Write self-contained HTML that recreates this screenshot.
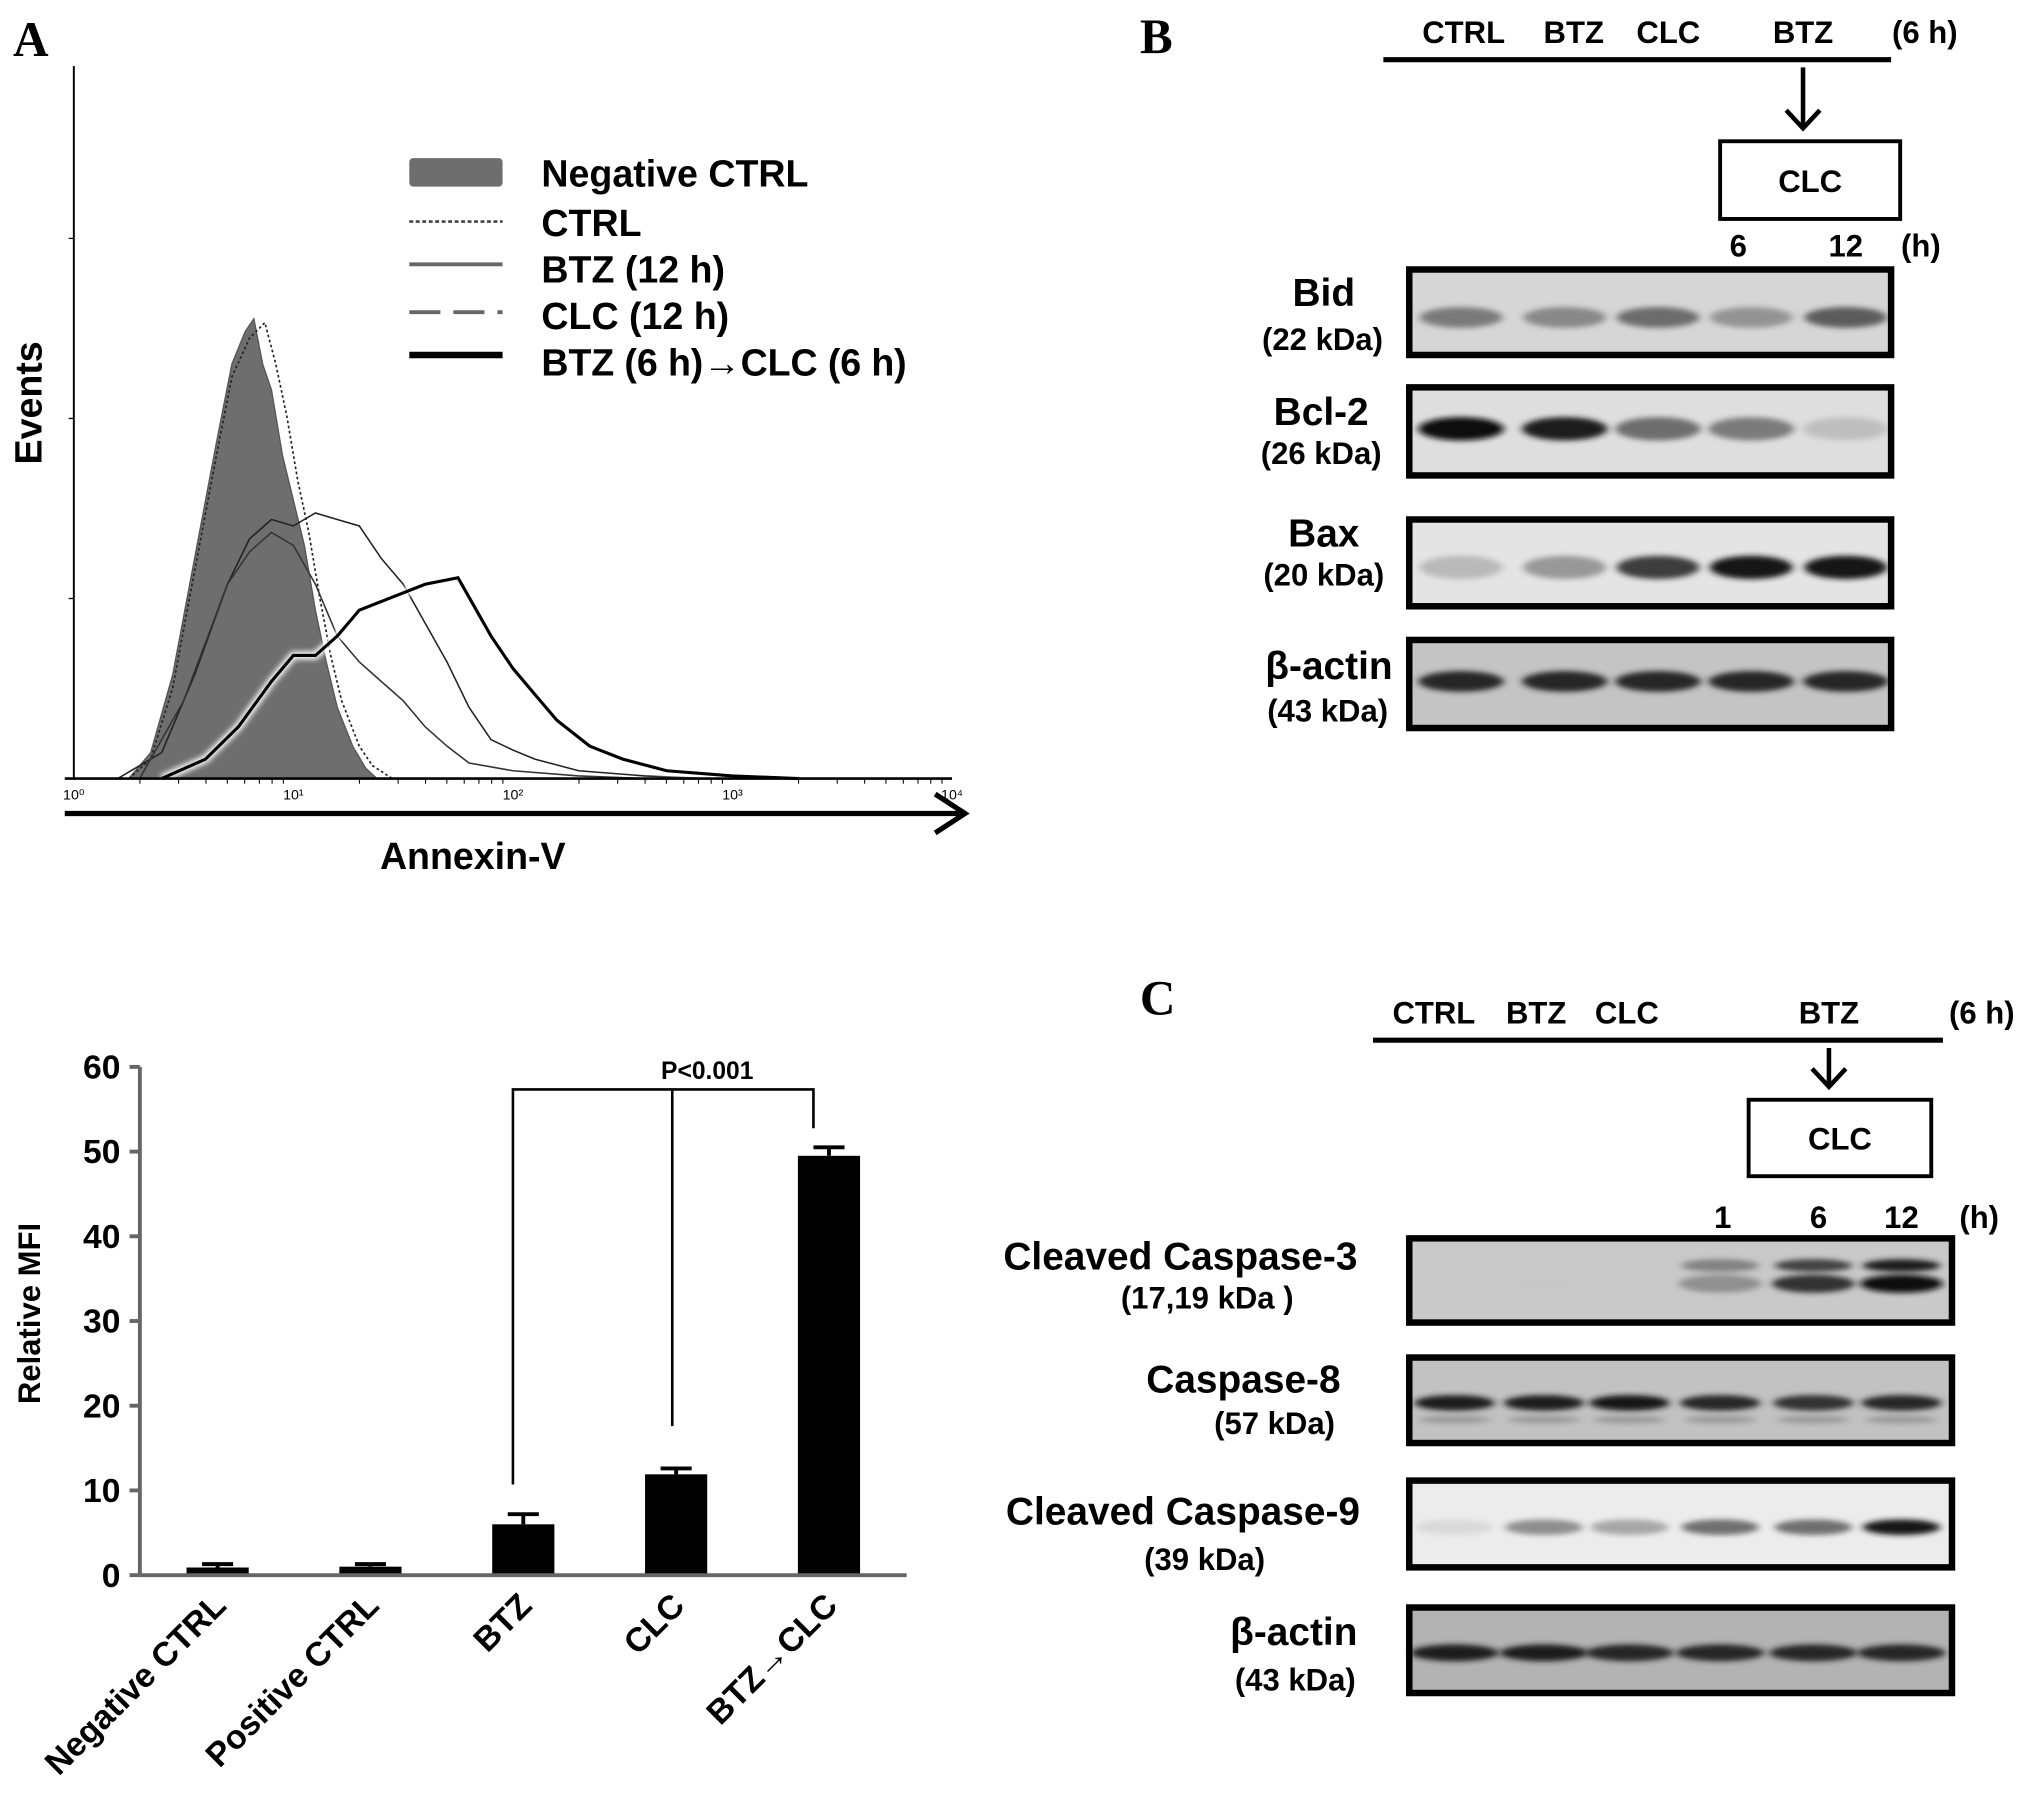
<!DOCTYPE html>
<html><head><meta charset="utf-8"><style>
html,body{margin:0;padding:0;background:#fff;}
svg{display:block;font-family:"Liberation Sans",Arial,sans-serif;}
</style></head><body>
<svg id="fig" width="2031" height="1798" viewBox="0 0 1568 1386" xmlns="http://www.w3.org/2000/svg">
<defs>
<filter id="blur" x="-20%" y="-100%" width="140%" height="300%"><feGaussianBlur stdDeviation="3 2"/></filter>
<filter id="glow"><feGaussianBlur stdDeviation="2"/></filter>
</defs>
<g id="panelA"></g>
<g id="panelBar"></g>
<g id="panelB"></g>
<g id="panelC"></g>
</svg>
<script>
// ---------- Histogram data (log10 Annexin-V, events) ----------
const negLog=[0.25,0.35,0.45,0.55,0.65,0.72,0.78,0.82,0.86,0.9,0.95,1.0,1.05,1.1,1.15,1.2,1.27,1.33,1.38];
const negVal=[0,20,80,170,260,320,345,355,320,300,250,215,180,130,90,55,25,8,0];
const ctrlLog=[0.25,0.35,0.45,0.55,0.65,0.72,0.8,0.87,0.92,0.97,1.02,1.07,1.12,1.17,1.22,1.3,1.36,1.45];
const ctrlVal=[0,15,70,160,250,310,340,352,320,280,230,190,140,95,60,25,10,0];
const btzLog=[0.2,0.4,0.55,0.7,0.8,0.9,1.0,1.1,1.2,1.3,1.4,1.5,1.6,1.7,1.8,1.9,2.0,2.1,2.3,2.6,2.9];
const btzVal=[0,20,80,150,185,200,195,205,200,195,170,150,120,90,55,30,22,15,6,2,0];
const clcLog=[0.3,0.5,0.7,0.8,0.9,1.0,1.1,1.2,1.3,1.4,1.5,1.6,1.7,1.8,2.0,2.3,2.6];
const clcVal=[0,60,150,175,190,180,150,110,90,75,60,40,25,12,6,2,0];
const seqLog=[0.4,0.6,0.75,0.9,1.0,1.1,1.2,1.3,1.45,1.6,1.75,1.8,1.9,2.0,2.1,2.2,2.35,2.5,2.7,3.0,3.3];
const seqVal=[0,15,40,75,95,95,110,130,140,150,155,140,110,85,65,45,25,15,6,2,0];
const xTickLabels=["10⁰","10¹","10²","10³","10⁴"];
// ---------- Bar chart data ----------
const barCats=["Negative CTRL","Positive CTRL","BTZ","CLC","BTZ→CLC"];
const barVals=[0.9,1.0,6.0,11.9,49.5];
const barErr=[0.4,0.3,1.2,0.7,1.0];
const barTicks=[0,10,20,30,40,50,60];
// ---------- Blot data (band intensity 0..1) ----------
const bLanes=["CTRL","BTZ","CLC","BTZ→CLC 6h","BTZ→CLC 12h"];
const bidInt=[0.55,0.5,0.6,0.45,0.65];
const bcl2Int=[1.0,0.9,0.6,0.55,0.25];
const baxInt=[0.3,0.45,0.75,0.95,0.95];
const bActinInt=[0.85,0.85,0.85,0.85,0.85];
const cLanes=["CTRL","BTZ","CLC","BTZ→CLC 1h","BTZ→CLC 6h","BTZ→CLC 12h"];
const cc3Int=[0.03,0.05,0.04,0.45,0.8,1.0];
const casp8Int=[0.9,0.9,0.95,0.85,0.8,0.85];
const cc9Int=[0.12,0.5,0.4,0.6,0.6,0.95];
const cActinInt=[0.9,0.9,0.85,0.85,0.85,0.85];

const NS="http://www.w3.org/2000/svg";
function mk(parent,tag,attrs,text){const e=document.createElementNS(NS,tag);for(const k in attrs)e.setAttribute(k,attrs[k]);if(text!==undefined)e.textContent=text;parent.appendChild(e);return e;}

// ===== Panel A histogram =====
const A=document.getElementById('panelA');
const hx0=57,hdec=169.5,hy0=600;
const hx=l=>hx0+l*hdec, hy=v=>hy0-v;
let t=mk(A,'text',{x:10,y:42,'font-family':'Liberation Serif,serif','font-size':38,'font-weight':'bold'},'A');

function pathFrom(L,V,close){let d='';L.forEach((l,i)=>{d+=(i?'L':'M')+hx(l).toFixed(1)+' '+hy(V[i]).toFixed(1)});if(close)d+='Z';return d;}
let p=mk(A,'path',{d:pathFrom(negLog,negVal,true),fill:'#fff',stroke:'#fff','stroke-width':8,filter:'url(#glow)'});
p=mk(A,'path',{d:pathFrom(negLog,negVal,true),fill:'#6e6e6e',stroke:'#555','stroke-width':1});

p=mk(A,'path',{d:pathFrom(ctrlLog,ctrlVal),fill:'none',stroke:'#222','stroke-width':1.3,'stroke-dasharray':'2 2'});

p=mk(A,'path',{d:pathFrom(btzLog,btzVal),fill:'none',stroke:'#222','stroke-width':1.2});

p=mk(A,'path',{d:pathFrom(clcLog,clcVal),fill:'none',stroke:'#333','stroke-width':1.2});

p=mk(A,'path',{d:pathFrom(seqLog,seqVal),fill:'none',stroke:'#fff','stroke-width':6,filter:'url(#glow)'});
p=mk(A,'path',{d:pathFrom(seqLog,seqVal),fill:'none',stroke:'#000','stroke-width':2.4});

// axes
p=mk(A,'line',{x1:hx0,y1:50,x2:hx0,y2:hy0,stroke:'#000','stroke-width':1.5});

[139,278,417].forEach(v=>mk(A,'line',{x1:hx0-4,y1:hy(v),x2:hx0,y2:hy(v),stroke:'#000','stroke-width':1}));
p=mk(A,'line',{x1:50,y1:hy0,x2:hx(4),y2:hy0,stroke:'#000','stroke-width':2});

for(let d=0;d<4;d++)for(let k=2;k<10;k++){const x=hx(d+Math.log10(k));mk(A,'line',{x1:x,y1:hy0,x2:x,y2:hy0+4,stroke:'#000','stroke-width':0.8});}
xTickLabels.forEach((s,i)=>{const e=mk(A,'text',{x:hx(i),y:hy0+16,'font-size':11,'text-anchor':'middle'},s);
});
p=mk(A,'path',{d:'M50 627 L742 627 M722 612 L745 627 L722 642',stroke:'#000','stroke-width':4,fill:'none'});

t=mk(A,'text',{x:365,y:670,'font-size':29,'font-weight':'bold','text-anchor':'middle'},'Annexin-V');

t=mk(A,'text',{x:0,y:0,'font-size':29,'font-weight':'bold','text-anchor':'middle',transform:'translate(32,310) rotate(-90)'},'Events');

// legend
const lg=mk(A,'g',{});
const legTxt=["Negative CTRL","CTRL","BTZ (12 h)","CLC (12 h)","BTZ (6 h)→CLC (6 h)"];
const legY=[132,170,206,242,278];
mk(lg,'rect',{x:316,y:121,width:72,height:22,rx:3,fill:'#6e6e6e'});
mk(lg,'line',{x1:316,y1:170,x2:388,y2:170,stroke:'#444','stroke-width':2,'stroke-dasharray':'3 2'});
mk(lg,'line',{x1:316,y1:203,x2:388,y2:203,stroke:'#666','stroke-width':3});
mk(lg,'line',{x1:316,y1:240,x2:388,y2:240,stroke:'#666','stroke-width':3,'stroke-dasharray':'24 10'});
mk(lg,'line',{x1:316,y1:273,x2:388,y2:273,stroke:'#000','stroke-width':5});
legTxt.forEach((s,i)=>{const e=mk(lg,'text',{x:418,y:legY[i]+11,'font-size':29,'font-weight':'bold',textLength:(i==4?282:null)},s);
if(i!=4)e.removeAttribute('textLength');
});

// ===== Bar chart =====
const Bc=document.getElementById('panelBar');
const bx0=108,by0=1215,bpx=6.54;
const by=v=>by0-v*bpx;
const bcx=i=>168+i*118;
barVals.forEach((v,i)=>{
 const x=bcx(i);
 const e=mk(Bc,'line',{x1:x,y1:by(v),x2:x,y2:by(v+barErr[i]),stroke:'#000','stroke-width':3});
 
 mk(Bc,'line',{x1:x-12,y1:by(v+barErr[i]),x2:x+12,y2:by(v+barErr[i]),stroke:'#000','stroke-width':3});
 const r=mk(Bc,'rect',{x:x-24,y:by(v),width:48,height:by0-by(v),fill:'#000'});
 
 const lb=mk(Bc,'text',{x:0,y:0,'font-size':26,'font-weight':'bold','text-anchor':'end',transform:'translate('+(x+8)+',1240) rotate(-45)'},barCats[i]);
 
});
p=mk(Bc,'line',{x1:bx0,y1:by(60),x2:bx0,y2:by0,stroke:'#666','stroke-width':3});

p=mk(Bc,'line',{x1:bx0,y1:by0,x2:700,y2:by0,stroke:'#666','stroke-width':3});

barTicks.forEach(v=>{mk(Bc,'line',{x1:bx0-8,y1:by(v),x2:bx0,y2:by(v),stroke:'#666','stroke-width':3});
 const e=mk(Bc,'text',{x:93,y:by(v)+9,'font-size':26,'font-weight':'bold','text-anchor':'end'},String(v));
 });
t=mk(Bc,'text',{x:0,y:0,'font-size':24,'font-weight':'bold','text-anchor':'middle',transform:'translate(31,1013) rotate(-90)'},'Relative MFI');

p=mk(Bc,'path',{d:'M396 1145 L396 840 L628 840 L628 870 M519 840 L519 1100',stroke:'#000','stroke-width':2,fill:'none'});

t=mk(Bc,'text',{x:546,y:832,'font-size':19,'font-weight':'bold','text-anchor':'middle'},'P<0.001');


// ===== Blots =====
function header(G,letter,lx,ly,lineY,x1,x2,labels,labXs,arrowX,box,hrs,hrXs,hrY){
 let e=mk(G,'text',{x:lx,y:ly,'font-family':'Liberation Serif,serif','font-size':38,'font-weight':'bold'},letter);
 
 mk(G,'line',{x1:x1,y1:lineY,x2:x2,y2:lineY,stroke:'#000','stroke-width':4});
 labels.forEach((s,i)=>{const q=mk(G,'text',{x:labXs[i],y:lineY-13,'font-size':24,'font-weight':'bold','text-anchor':'middle'},s);
  });
 mk(G,'path',{d:`M${arrowX} ${lineY+6} L${arrowX} ${box[1]-10} M${arrowX-13} ${box[1]-24} L${arrowX} ${box[1]-10} L${arrowX+13} ${box[1]-24}`,stroke:'#000','stroke-width':3.5,fill:'none'});
 mk(G,'rect',{x:box[0],y:box[1],width:box[2],height:box[3],fill:'#fff',stroke:'#000','stroke-width':3});
 e=mk(G,'text',{x:box[0]+box[2]/2,y:box[1]+box[3]/2+9,'font-size':24,'font-weight':'bold','text-anchor':'middle'},'CLC');
 
 hrs.forEach((s,i)=>{const q=mk(G,'text',{x:hrXs[i],y:hrY,'font-size':24,'font-weight':'bold','text-anchor':'middle'},s);
  });
}
function blot(G,name,x1,x2,y1,y2,bg,lanes,ints,bandY,bw,bh,label,lab2,labX,anchor,labY,lab2X,lab2Y,extra){
 const g=mk(G,'g',{});
 mk(g,'rect',{x:x1,y:y1,width:x2-x1,height:y2-y1,fill:bg});
 ints.forEach((v,i)=>{
  const c=Math.round(210-200*v);
  const b=mk(g,'ellipse',{cx:lanes[i],cy:bandY,rx:bw/2,ry:bh/2,fill:`rgb(${c},${c},${c})`,filter:'url(#blur)',opacity:Math.min(1,0.25+v)});
  
  if(extra)extra(g,lanes[i],v);
 });
 mk(g,'rect',{x:x1,y:y1,width:x2-x1,height:y2-y1,fill:'none',stroke:'#000','stroke-width':5});
 let e=mk(G,'text',{x:labX,y:labY,'font-size':30,'font-weight':'bold','text-anchor':anchor},label);
 
 e=mk(G,'text',{x:lab2X,y:lab2Y,'font-size':24,'font-weight':'bold','text-anchor':'middle'},lab2);
 
}
const PB=document.getElementById('panelB');
header(PB,'B',880,40,45,1068,1460,["CTRL","BTZ","CLC","BTZ","(6 h)"],[1130,1215,1288,1392,1486],1392,[1328,108,139,60],["6","12","(h)"],[1342,1425,1483],197);
const bL=[1128,1208,1280,1352,1425];
blot(PB,'bid-blot',1088,1460,207,273,'#d6d6d6',bL,bidInt,244,64,16,'Bid','(22 kDa)',1022,'middle',235,1021,269);
blot(PB,'bcl2-blot',1088,1460,298,366,'#dedede',bL,bcl2Int,330,66,18,'Bcl-2','(26 kDa)',1020,'middle',327,1020,357);
blot(PB,'bax-blot',1088,1460,400,467,'#e4e4e4',bL,baxInt,437,64,18,'Bax','(20 kDa)',1022,'middle',421,1022,451);
blot(PB,'b-actin-blot',1088,1460,493,561,'#c4c4c4',bL,bActinInt,525,66,16,'β-actin','(43 kDa)',1026,'middle',523,1025,556);
const PC=document.getElementById('panelC');
header(PC,'C',880,782,802,1060,1500,["CTRL","BTZ","CLC","BTZ","(6 h)"],[1107,1186,1256,1412,1530],1412,[1350,848,141,59],["1","6","12","(h)"],[1330,1404,1468,1528],947);
const cL=[1123,1192,1258,1328,1400,1468];
blot(PC,'cleaved-caspase-3-blot',1088,1507,955,1020,'#c9c9c9',cL,cc3Int,990,64,14,'Cleaved Caspase-3','(17,19 kDa )',1048,'end',979,932,1009,
 (g,x,v)=>{if(v>0.2){const c=Math.round(210-180*v);mk(g,'ellipse',{cx:x,cy:976,rx:30,ry:5,fill:`rgb(${c},${c},${c})`,filter:'url(#blur)'});}});
blot(PC,'caspase-8-blot',1088,1507,1047,1113,'#c2c2c2',cL,casp8Int,1082,62,12,'Caspase-8','(57 kDa)',1035,'end',1074,984,1106,
 (g,x,v)=>{mk(g,'ellipse',{cx:x,cy:1095,rx:28,ry:3,fill:'#999',filter:'url(#blur)'});});
blot(PC,'cleaved-caspase-9-blot',1088,1507,1142,1209,'#ececec',cL,cc9Int,1178,60,12,'Cleaved Caspase-9','(39 kDa)',1050,'end',1176,930,1211);
blot(PC,'c-actin-blot',1088,1507,1240,1306,'#b3b3b3',cL,cActinInt,1275,68,13,'β-actin','(43 kDa)',1048,'end',1269,1000,1304);
</script>
</body></html>
